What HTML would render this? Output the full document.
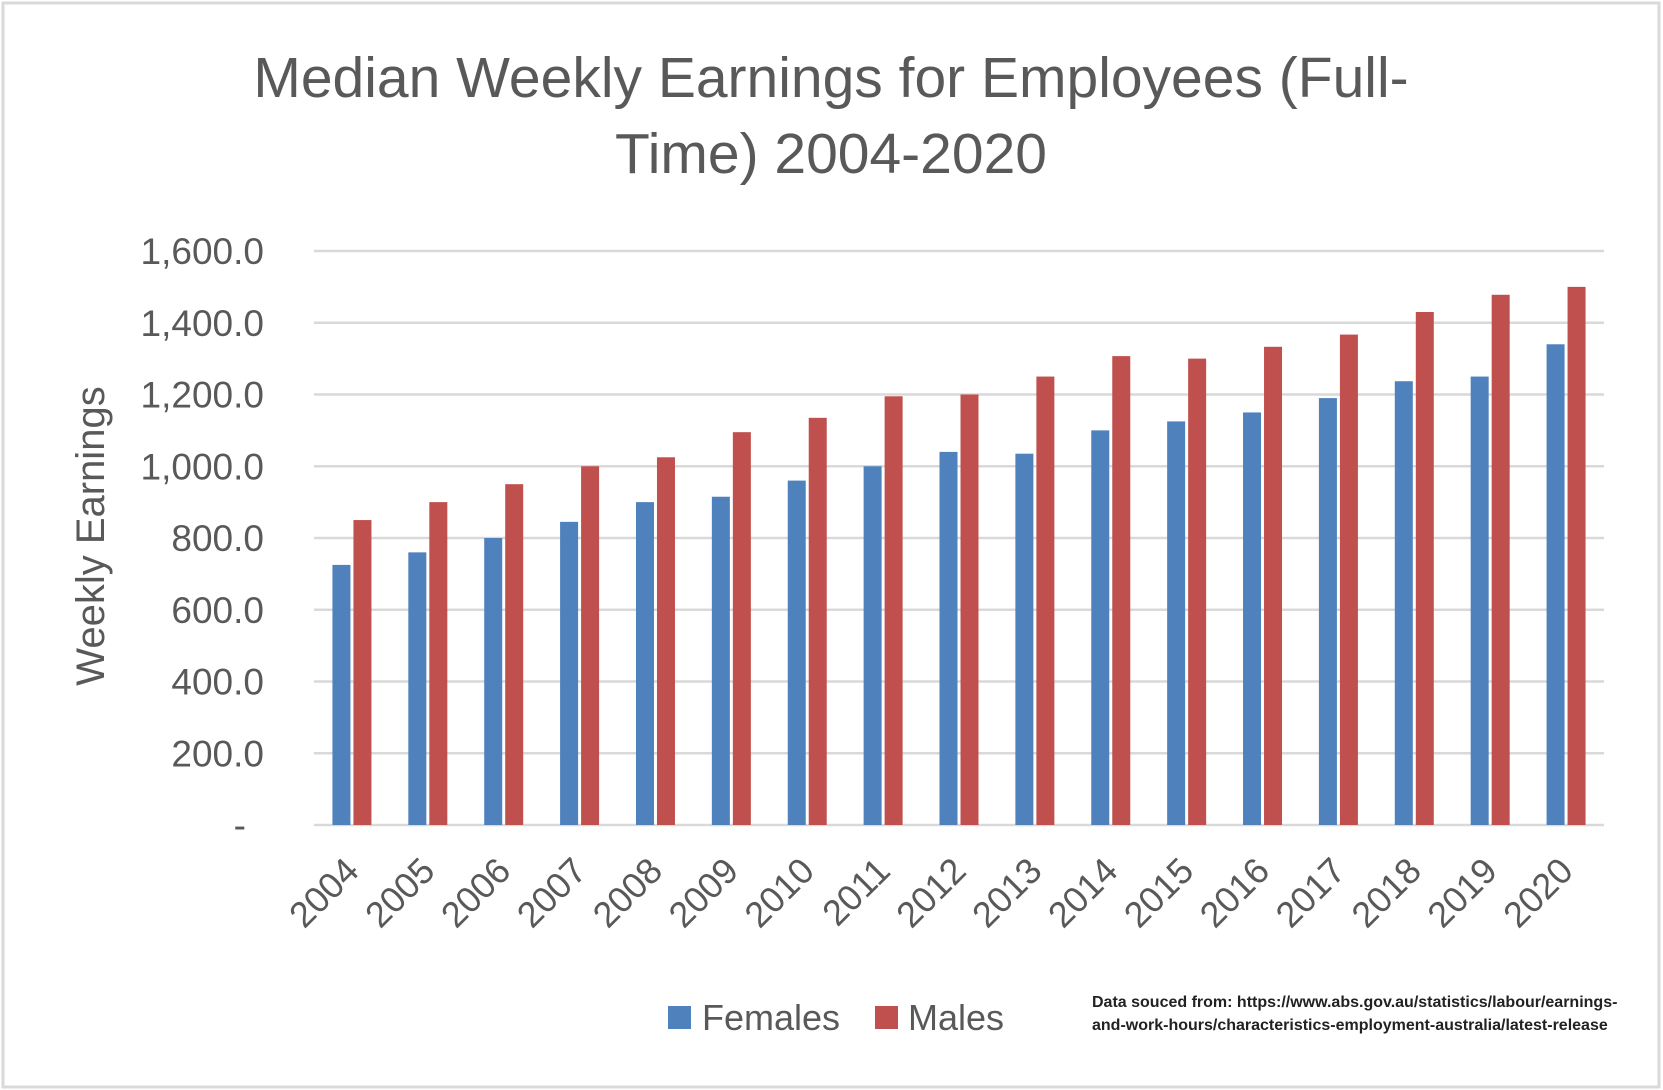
<!DOCTYPE html>
<html><head><meta charset="utf-8"><style>
body{margin:0;background:#fff;}
svg{display:block;font-family:"Liberation Sans",sans-serif;}
</style></head><body>
<svg id="chart" width="1663" height="1090">
<rect x="3" y="3" width="1656" height="1084" fill="#fff" stroke="#d9d9d9" stroke-width="3"/>
<text x="831" y="97" font-size="57" fill="#595959" text-anchor="middle">Median Weekly Earnings for Employees (Full-</text>
<text x="831" y="173" font-size="57" fill="#595959" text-anchor="middle">Time) 2004-2020</text>
<text transform="translate(104,536) rotate(-90)" font-size="40" fill="#595959" text-anchor="middle">Weekly Earnings</text>
<g id="grid"></g><g id="bars"></g><g id="xlabels"></g>
<rect x="668" y="1006" width="23" height="23" fill="#4f81bd"/>
<text x="702" y="1030" font-size="36" fill="#595959">Females</text>
<rect x="875" y="1006" width="23" height="23" fill="#c0504d"/>
<text x="908" y="1030" font-size="36" fill="#595959">Males</text>
<text x="1092" y="1007" font-size="16" font-weight="bold" fill="#222">Data souced from: https://www.abs.gov.au/statistics/labour/earnings-</text>
<text x="1092" y="1030" font-size="16" font-weight="bold" fill="#222">and-work-hours/characteristics-employment-australia/latest-release</text>
</svg>
<script>
const years=["2004","2005","2006","2007","2008","2009","2010","2011","2012","2013","2014","2015","2016","2017","2018","2019","2020"];
const females=[725,760,800,845,900,915,960,1000,1040,1035,1100,1125,1150,1190,1237,1250,1340];
const males=[850,900,950,1000,1025,1095,1135,1195,1200,1250,1307,1300,1333,1367,1430,1478,1500];
const yTicks=[0,200,400,600,800,1000,1200,1400,1600];
const yTickLabels=["-","200.0","400.0","600.0","800.0","1,000.0","1,200.0","1,400.0","1,600.0"];
const NS="http://www.w3.org/2000/svg";
const X0=314,X1=1604,Y0=825,Y1=251,VMAX=1600;
const bw=(X1-X0)/years.length;
const y=v=>Y0-(v/VMAX)*(Y0-Y1);
const xc=i=>X0+bw*(i+0.5);
function mk(t,a,p){const e=document.createElementNS(NS,t);for(const k in a)e.setAttribute(k,a[k]);p.appendChild(e);return e;}
const grid=document.getElementById('grid');
yTicks.forEach((v,i)=>{
  const l=mk('line',{x1:X0,x2:X1,y1:y(v),y2:y(v),stroke:'#d9d9d9','stroke-width':2.5},grid);
  
  
  const t=mk('text',{x:i===0?246:264,y:y(v)+13,'font-size':37,fill:'#595959','text-anchor':'end'},grid);
  t.textContent=yTickLabels[i];
  
  
});
const bars=document.getElementById('bars');
const W=18,G=3;
years.forEach((yr,i)=>{
  const c=xc(i);
  const f=mk('rect',{x:c-G/2-W,y:y(females[i]),width:W,height:Y0-y(females[i]),fill:'#4f81bd'},bars);
  
  
  const m=mk('rect',{x:c+G/2,y:y(males[i]),width:W,height:Y0-y(males[i]),fill:'#c0504d'},bars);
  
  
  const t=mk('text',{transform:`translate(${c+9},${Y0+48}) rotate(-45)`,'font-size':36,fill:'#595959','text-anchor':'end'},document.getElementById('xlabels'));
  t.textContent=yr;
  
  
});
</script>
</body></html>
